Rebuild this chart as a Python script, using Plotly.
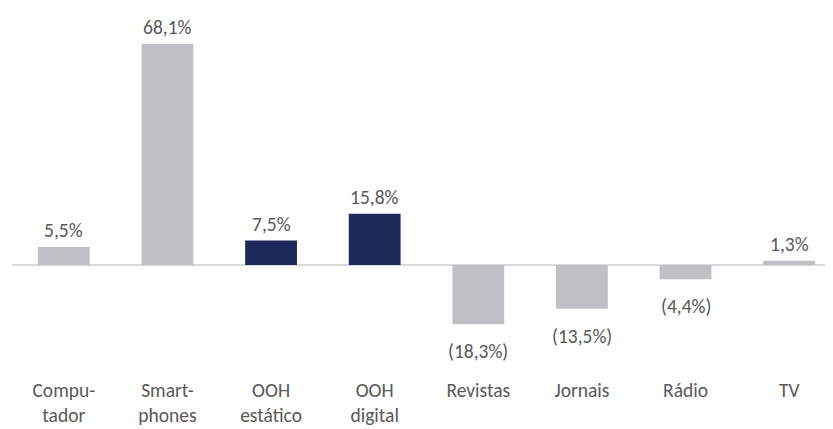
import plotly.graph_objects as go

categories = ["Compu-<br>tador", "Smart-<br>phones", "OOH<br>estático", "OOH<br>digital",
              "Revistas", "Jornais", "Rádio", "TV"]
values = [5.5, 68.1, 7.5, 15.8, -18.3, -13.5, -4.4, 1.3]
highlight = [False, False, True, True, False, False, False, False]

GRAY = "#BFC0C4"
NAVY = "#1F2A5C"
TEXT = "#595959"
FONT = "Carlito, Lato, sans-serif"
FSIZE = 19.5


def fmt(v):
    s = f"{abs(v):.1f}".replace(".", ",") + "%"
    return f"({s})" if v < 0 else s


x = list(range(len(categories)))
colors = [NAVY if h else GRAY for h in highlight]

fig = go.Figure(go.Bar(
    x=x, y=values, width=0.5,
    marker=dict(color=colors, line=dict(width=0)),
))

# value labels: above positive bars, below negative ones
for xi, v in zip(x, values):
    fig.add_annotation(
        x=xi, y=v, text=fmt(v), showarrow=False,
        yanchor="bottom" if v >= 0 else "top",
        yshift=3 if v >= 0 else -13,
        font=dict(family=FONT, size=FSIZE, color=TEXT),
    )

# page body has an 8px margin, so the margins here are shifted by that
fig.update_layout(
    width=833, height=429,
    margin=dict(l=4, r=0, t=0, b=77, autoexpand=False),
    paper_bgcolor="white", plot_bgcolor="white",
    showlegend=False,
    font=dict(family=FONT, size=FSIZE, color=TEXT),
    xaxis=dict(
        range=[-0.5, 7.5], tickmode="array", tickvals=x, ticktext=categories,
        showgrid=False, showline=False, zeroline=False, ticks="",
        tickfont=dict(family=FONT, size=FSIZE, color=TEXT), automargin=False,
        ticklabelstandoff=16,
    ),
    yaxis=dict(
        range=[-29.3, 79.2], showgrid=False, showticklabels=False,
        zeroline=True, zerolinecolor="#D9D9D9", zerolinewidth=1.5, automargin=False,
    ),
)

fig.write_html("out.html")
